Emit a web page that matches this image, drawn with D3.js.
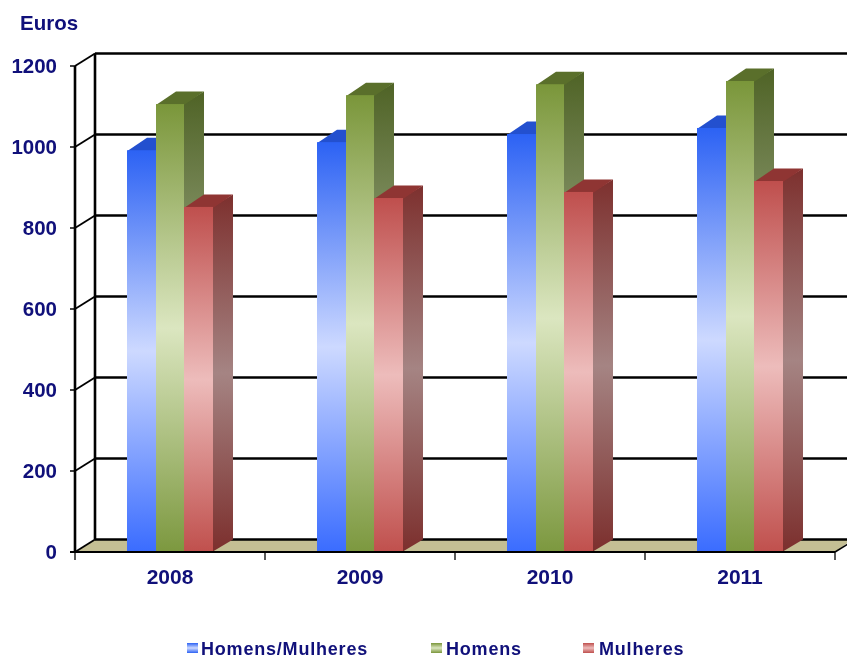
<!DOCTYPE html>
<html><head><meta charset="utf-8">
<script src="https://cdn.jsdelivr.net/npm/d3@7/dist/d3.min.js"></script>
<style>html,body{margin:0;padding:0;background:#fff}svg{display:block;filter:blur(0.35px)}text{font-family:"Liberation Sans",Arial,sans-serif;font-weight:bold;fill:#10107a}</style>
</head><body><svg id="c" width="847" height="658"></svg>
<script>
const years=["2008","2009","2010","2011"];
const seriesNames=["Homens/Mulheres","Homens","Mulheres"];
const ambos=[992,1012,1032,1047];
const homens=[1106,1128,1155,1163];
const mulheres=[852,874,889,916];
const yTicks=[0,200,400,600,800,1000,1200];
const palette=[
 {stops:["#2c62f4","#cdd9ff","#3a6cff"],top:"#2350cf",side:["#2350cf","#8c9bd0","#2a4fc0"]},
 {stops:["#7a963a","#dbe6c0","#7c983f"],top:"#5a6f2b",side:["#4f6326","#a0ab88","#566c2a"]},
 {stops:["#bf4f4d","#edbcbb","#c0504d"],top:"#8f3533",side:["#7d302e","#a58483","#7c2f2d"]}
];
const values=[ambos,homens,mulheres];
const W=847,H=658,dx=20,dy=-12.5;
const svg=d3.select("#c");
const y=d3.scaleLinear().domain([0,1200]).range([552,66]);
const x=d3.scaleBand().domain(years).range([75,835]);
const s=d3.scaleBand().domain(seriesNames).range([0,x.bandwidth()]).paddingInner(0).paddingOuter(1.78);
const defs=svg.append("defs");
palette.forEach((p,i)=>{
 [["f",p.stops],["s",p.side]].forEach(([k,cols])=>{
  const g=defs.append("linearGradient").attr("id",k+i).attr("x1",0).attr("x2",0).attr("y1",0).attr("y2",1);
  [0,.5,1].forEach((o,j)=>g.append("stop").attr("offset",o).attr("stop-color",cols[j]));
 });
 const l=defs.append("linearGradient").attr("id","l"+i).attr("x1",0).attr("x2",0).attr("y1",0).attr("y2",1);
 [0,.5,1].forEach((o,j)=>l.append("stop").attr("offset",o).attr("stop-color",p.stops[j===1?1:0]));
});
// floor
svg.append("path").attr("fill","#c4bf94")
 .attr("d",`M${x.range()[0]},${y(0)}L${x.range()[0]+dx},${y(0)+dy}L${W+5},${y(0)+dy}L${x.range()[1]},${y(0)}Z`);
// back wall gridlines and side wall diagonals
const grid=svg.append("g").attr("stroke","#000").attr("fill","none");
grid.selectAll("line.g").data(yTicks).join("line").attr("class","g")
 .attr("x1",75+dx).attr("x2",W).attr("y1",d=>y(d)+dy).attr("y2",d=>y(d)+dy).attr("stroke-width",2.3);
grid.selectAll("line.d").data(yTicks).join("line").attr("class","d")
 .attr("x1",75).attr("x2",75+dx).attr("y1",d=>y(d)).attr("y2",d=>y(d)+dy).attr("stroke-width",1.8);
grid.append("line").attr("x1",75+dx).attr("x2",75+dx).attr("y1",y(1200)+dy).attr("y2",y(0)+dy).attr("stroke-width",2.6);
grid.append("line").attr("x1",75).attr("x2",75).attr("y1",y(1200)).attr("y2",y(0)).attr("stroke-width",2.6);
// bars
years.forEach((yr,c)=>{
 seriesNames.forEach((n,i)=>{
  const v=values[i][c],x0=Math.round(x(yr)+s(n)),w=Math.round(x(yr)+s(n)+s.bandwidth())-x0,t=y(v),b=y(0);
  const g=svg.append("g");
  // side face starts 1px under the front face so no seam shows the gridlines behind it
  g.append("path").attr("fill",`url(#s${i})`)
   .attr("d",`M${x0+w-1},${t}L${x0+w+dx},${t+dy}L${x0+w+dx},${b+dy}L${x0+w-1},${b}Z`);
  g.append("path").attr("fill",palette[i].top)
   .attr("d",`M${x0},${t+1}L${x0+dx},${t+dy}L${x0+w+dx},${t+dy}L${x0+w},${t+1}Z`);
  g.append("rect").attr("x",x0).attr("y",t).attr("width",w).attr("height",b-t).attr("fill",`url(#f${i})`);
 });
});
// front axis
const ax=svg.append("g").attr("stroke","#000");
ax.append("line").attr("x1",70).attr("x2",835).attr("y1",y(0)).attr("y2",y(0)).attr("stroke-width",2.2);
ax.selectAll("line.yt").data(yTicks).join("line").attr("class","yt")
 .attr("x1",70).attr("x2",75).attr("y1",d=>y(d)).attr("y2",d=>y(d)).attr("stroke-width",1.5);
ax.selectAll("line.xt").data([...years.map(d=>x(d)),x.range()[1]]).join("line").attr("class","xt")
 .attr("x1",d=>d).attr("x2",d=>d).attr("y1",y(0)).attr("y2",y(0)+8).attr("stroke-width",1.3);
ax.append("line").attr("x1",835).attr("x2",848).attr("y1",552).attr("y2",544).attr("stroke-width",1.6);
// labels
svg.selectAll("text.yl").data(yTicks).join("text").attr("class","yl")
 .attr("x",57).attr("y",d=>y(d)+7).attr("text-anchor","end").attr("font-size",20.5).text(d=>d);
svg.selectAll("text.xl").data(years).join("text").attr("class","xl")
 .attr("x",d=>x(d)+x.bandwidth()/2).attr("y",584).attr("text-anchor","middle").attr("font-size",21).text(d=>d);
svg.append("text").attr("x",20).attr("y",30).attr("font-size",20.5).text("Euros");
// legend
const legX=[187,431,583],legTx=[201,446,599];
seriesNames.forEach((n,i)=>{
 svg.append("rect").attr("x",legX[i]).attr("y",643).attr("width",11).attr("height",10).attr("fill",`url(#l${i})`);
 svg.append("text").attr("x",legTx[i]).attr("y",654.5).attr("font-size",18).attr("letter-spacing",0.8).text(n);
});
</script></body></html>
